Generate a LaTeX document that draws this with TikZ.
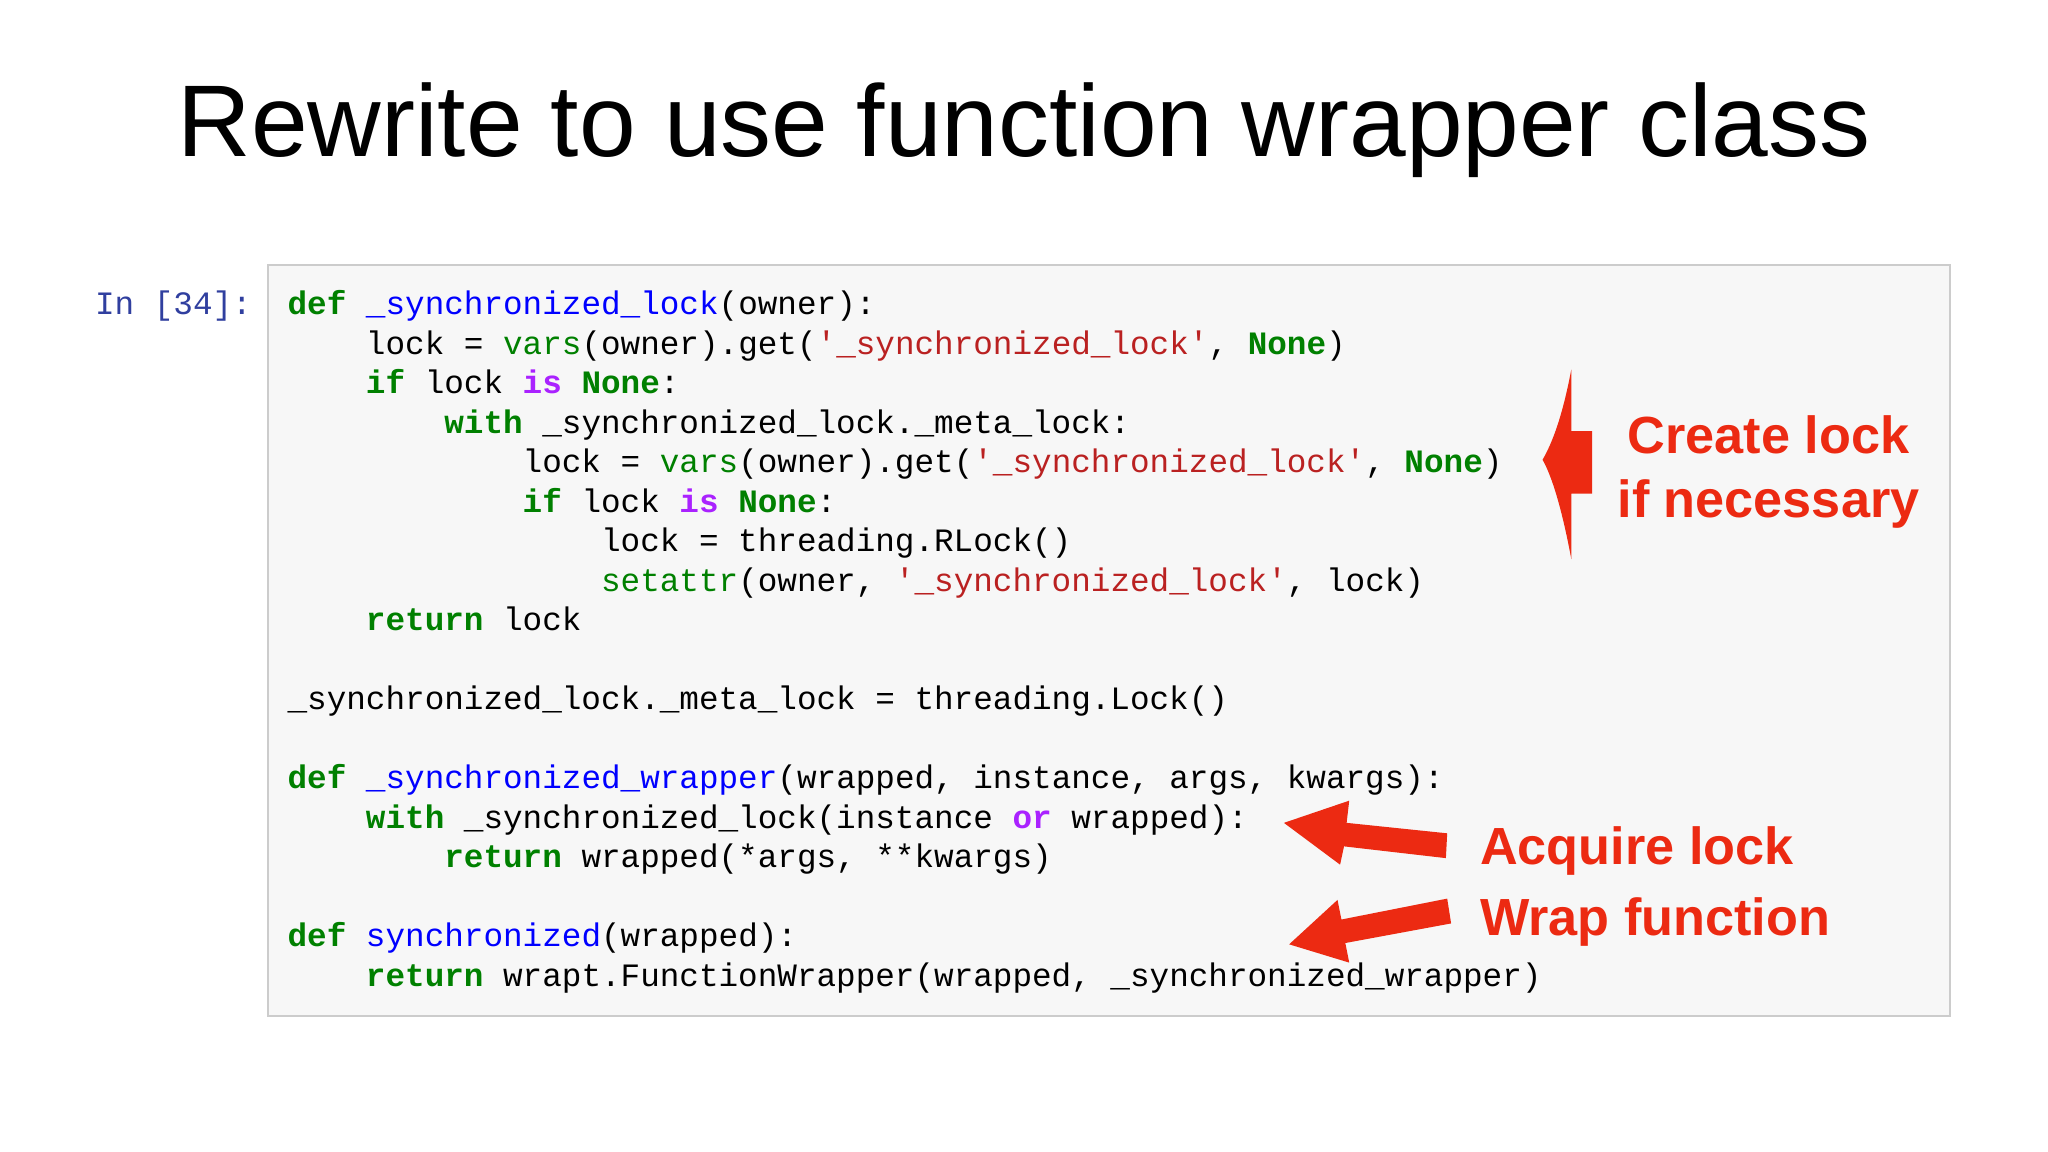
\documentclass[tikz,border=0pt]{standalone}
\usepackage{fontspec}
\setmainfont{Liberation Sans}
\newfontfamily\codefont{Liberation Mono}
\definecolor{kwg}{HTML}{008000}
\definecolor{strr}{HTML}{BA2121}
\definecolor{fnb}{HTML}{0000FF}
\definecolor{opp}{HTML}{AA22FF}
\definecolor{prompt}{HTML}{303F9F}
\definecolor{arr}{HTML}{EC2A12}
\newcommand\kw[1]{\textcolor{kwg}{\bfseries #1}}
\newcommand\bi[1]{\textcolor{kwg}{#1}}
\newcommand\st[1]{\textcolor{strr}{#1}}
\newcommand\fn[1]{\textcolor{fnb}{#1}}
\newcommand\op[1]{\textcolor{opp}{\bfseries #1}}
\tikzset{
  code/.style={anchor=base west,inner sep=0pt,font=\codefont\fontsize{25}{25}\selectfont},
  lbl/.style={anchor=base west,inner sep=0pt,text=arr,font=\bfseries\fontsize{40}{40}\selectfont},
  redarrow/.style={fill=arr,draw=none}
}
\begin{document}
\begin{tikzpicture}[x=1pt,y=-1pt]
\useasboundingbox (0,0) rectangle (1568,882);
\fill[white] (0,0) rectangle (1568,882);
\node[inner sep=0pt,font=\fontsize{78}{78}\selectfont] (title) at (784,100) {Rewrite to use function wrapper class};
\draw[fill=black!3,draw=black!20,line width=1.2pt] (205,203) rectangle (1493,778);
\node[code,text=prompt,anchor=base east] (prompt) at (193,241) {In [34]:};
\newcommand\cl[3]{\node[code] (#1) at ({220+15*#2},{241+30.25*(#3-1)}) {#1};}
\node[code] (l1) at (220,241) {\kw{def} \fn{\_synchronized\_lock}(owner):};
\node[code] (l2) at (280,271.25) {lock = \bi{vars}(owner).get(\st{'\_synchronized\_lock'}, \kw{None})};
\node[code] (l3) at (280,301.5) {\kw{if} lock \op{is} \kw{None}:};
\node[code] (l4) at (340,331.75) {\kw{with} \_synchronized\_lock.\_meta\_lock:};
\node[code] (l5) at (400,362) {lock = \bi{vars}(owner).get(\st{'\_synchronized\_lock'}, \kw{None})};
\node[code] (l6) at (400,392.25) {\kw{if} lock \op{is} \kw{None}:};
\node[code] (l7) at (460,422.5) {lock = threading.RLock()};
\node[code] (l8) at (460,452.75) {\bi{setattr}(owner, \st{'\_synchronized\_lock'}, lock)};
\node[code] (l9) at (280,483) {\kw{return} lock};
\node[code] (l11) at (220,543.5) {\_synchronized\_lock.\_meta\_lock = threading.Lock()};
\node[code] (l13) at (220,604) {\kw{def} \fn{\_synchronized\_wrapper}(wrapped, instance, args, kwargs):};
\node[code] (l14) at (280,634.25) {\kw{with} \_synchronized\_lock(instance \op{or} wrapped):};
\node[code] (l15) at (340,664.5) {\kw{return} wrapped(*args, **kwargs)};
\node[code] (l17) at (220,725) {\kw{def} \fn{synchronized}(wrapped):};
\node[code] (l18) at (280,755.25) {\kw{return} wrapt.FunctionWrapper(wrapped, \_synchronized\_wrapper)};
% arrows
\fill[redarrow] (1203,283) .. controls (1196,320) and (1188,340) .. (1181,352) .. controls (1188,364) and (1196,390) .. (1203,428) -- (1203,378) -- (1219,378) -- (1219,330) -- (1203,330) -- cycle;
\coordinate (a1tip) at (983,630);
\fill[redarrow] (983,630) -- (1033,613) -- (1031,630) -- (1108,638) -- (1107,657) -- (1029,648) -- (1026,662) -- cycle;
\fill[redarrow] (987,723) -- (1024,689) -- (1027,704) -- (1108,688) -- (1111,707) -- (1030,722) -- (1033,737) -- cycle;
\node[lbl,anchor=base] (c1) at (1354,347) {Create lock};
\node[lbl,anchor=base] (c2) at (1354,396) {if necessary};
\node[lbl] (acq) at (1133,662) {Acquire lock};
\node[lbl] (wrap) at (1133,716) {Wrap function};
\end{tikzpicture}
\end{document}
